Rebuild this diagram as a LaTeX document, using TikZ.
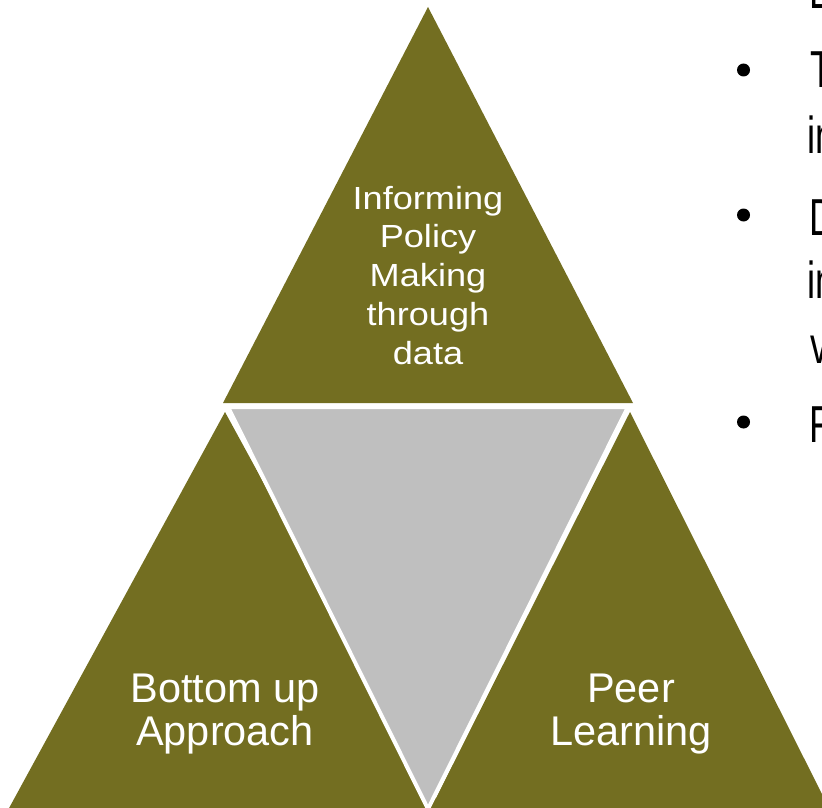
\documentclass[tikz,border=0pt]{standalone}
\usepackage{fontspec}
\setmainfont{Liberation Sans}
\usepackage{graphicx}
\definecolor{olive}{RGB}{115,110,33}
\definecolor{midgray}{RGB}{191,191,191}
\newcommand{\narrowtxt}[1]{\scalebox{0.7}[1]{#1}}
\tikzset{
  tri/.style={fill=olive, draw=none},
  midtri/.style={fill=midgray, draw=white, line width=4pt, line join=miter},
  toplabel/.style={text=white, align=center, inner sep=0pt, anchor=base,
    font=\fontsize{32}{38.75}\selectfont},
  botlabel/.style={text=white, align=center, inner sep=0pt, anchor=base,
    font=\fontsize{41.5}{43}\selectfont},
  sidetext/.style={text=black, inner sep=0pt, anchor=base west,
    font=\fontsize{52}{64}\selectfont},
  bulletdot/.style={circle, fill=black, inner sep=0pt, minimum size=13pt}
}
\begin{document}
\begin{tikzpicture}[x=1pt, y=-1pt]
\useasboundingbox (0,0) rectangle (822,808);
\clip (0,0) rectangle (822,808);
% top triangle
\fill[tri] (428,7) -- (633,403) -- (223,403) -- cycle;
% left triangle
\fill[tri] (225,412) -- (442,810) -- (8,810) -- cycle;
% right triangle
\fill[tri] (630,412) -- (830,810) -- (430,810) -- cycle;
% middle inverted triangle
\draw[midtri] (228,407) -- (628,407) -- (428,809) -- cycle;
% labels
\node[toplabel] (top) at (428,364) {\scalebox{1.13}[1]{Informing}\\\scalebox{1.13}[1]{Policy}\\\scalebox{1.13}[1]{Making}\\\scalebox{1.13}[1]{through}\\\scalebox{1.13}[1]{data}};
\node[botlabel] (left) at (225,745) {Bottom up\\Approach};
\node[botlabel] (right) at (631,745) {Peer\\Learning};
% side text
\node[sidetext] (l0) at (809,9) {\narrowtxt{L}};
\node[bulletdot] (b1) at (743.5,70) {};
\node[sidetext] (t1) at (810,88) {\narrowtxt{T}};
\node[sidetext] (t1b) at (807.6,153) {\narrowtxt{in}};
\node[bulletdot] (b2) at (743.5,215) {};
\node[sidetext] (t2) at (809,235) {\narrowtxt{D}};
\node[sidetext] (t2b) at (807.6,298) {\narrowtxt{in}};
\node[sidetext] (t2c) at (810,363) {\narrowtxt{v}};
\node[bulletdot] (b3) at (743.5,422) {};
\node[sidetext] (t3) at (809,442) {\narrowtxt{F}};
\end{tikzpicture}
\end{document}
